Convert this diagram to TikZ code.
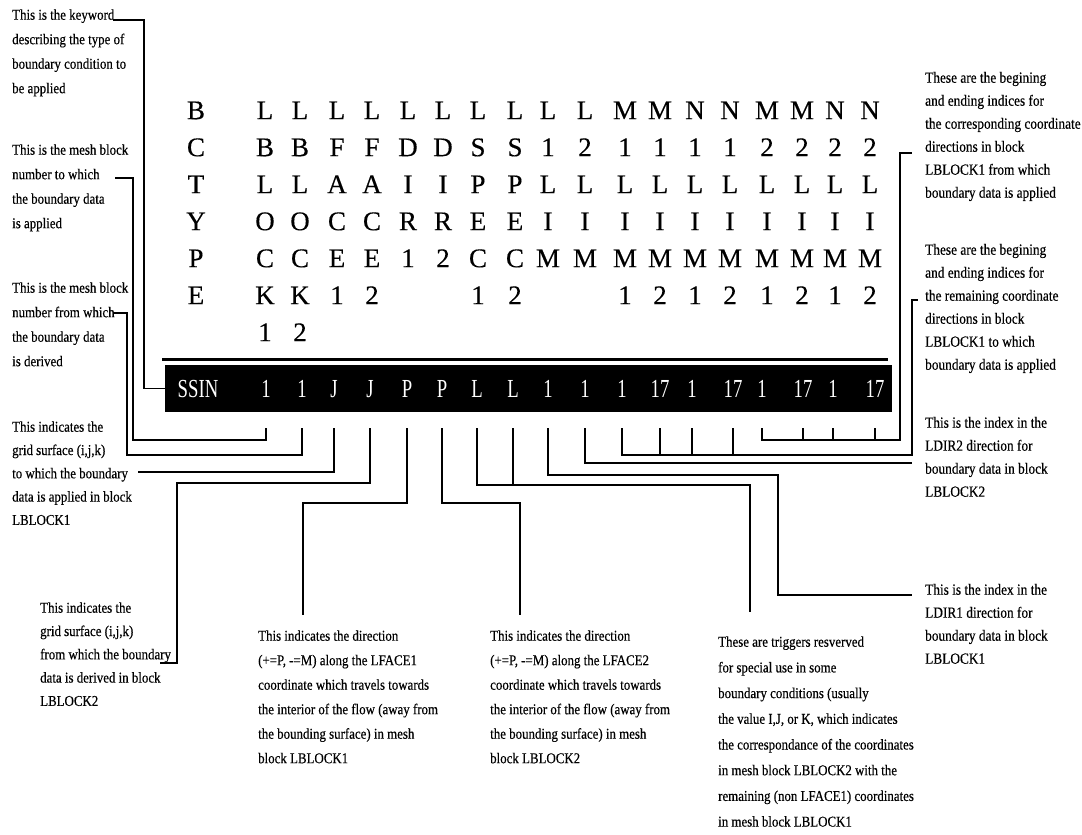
\documentclass[tikz,border=0pt]{standalone}
\usepackage{fontspec}
\setmainfont{Liberation Serif}
\newfontfamily\annfont[FakeStretch=0.86,FakeBold=0.4]{Liberation Serif}
\newfontfamily\hdrfont[FakeBold=0.3]{Liberation Serif}
\newfontfamily\barfont[FakeStretch=0.72]{Liberation Serif}
\newcommand\fl{\rule{0pt}{11pt}}
\newcommand\hl{\rule{0pt}{20pt}}
\begin{document}
\begin{tikzpicture}[x=1pt,y=-1pt,
  annL/.style={anchor=north west, inner sep=0, align=left, font=\annfont\fontsize{15}{24.5}\selectfont},
  annD/.style={anchor=north west, inner sep=0, align=left, font=\annfont\fontsize{15}{23.3}\selectfont},
  annB/.style={anchor=north west, inner sep=0, align=left, font=\annfont\fontsize{15}{24.5}\selectfont},
  annH/.style={anchor=north west, inner sep=0, align=left, font=\annfont\fontsize{15}{25.7}\selectfont},
  annR/.style={anchor=north west, inner sep=0, align=left, font=\annfont\fontsize{15.5}{23}\selectfont},
  hdr/.style={anchor=north, inner sep=0, align=center, font=\hdrfont\fontsize{27}{37}\selectfont},
  val/.style={anchor=base, inner sep=0, text=white, font=\barfont\fontsize{26}{26}\selectfont},
  lead/.style={draw, line width=1.3pt, line join=miter}]
\useasboundingbox (0,0) rectangle (1082,835);

% header columns
\node[hdr] (h0) at (196,99) {\hl B\\C\\T\\Y\\P\\E};
\node[hdr] (h1) at (265,99) {\hl L\\B\\L\\O\\C\\K\\1};
\node[hdr] (h2) at (300,99) {\hl L\\B\\L\\O\\C\\K\\2};
\node[hdr] (h3) at (337,99) {\hl L\\F\\A\\C\\E\\1};
\node[hdr] (h4) at (372,99) {\hl L\\F\\A\\C\\E\\2};
\node[hdr] (h5) at (408,99) {\hl L\\D\\I\\R\\1};
\node[hdr] (h6) at (443,99) {\hl L\\D\\I\\R\\2};
\node[hdr] (h7) at (478,99) {\hl L\\S\\P\\E\\C\\1};
\node[hdr] (h8) at (515,99) {\hl L\\S\\P\\E\\C\\2};
\node[hdr] (h9) at (548,99) {\hl L\\1\\L\\I\\M};
\node[hdr] (h10) at (585,99) {\hl L\\2\\L\\I\\M};
\node[hdr] (h11) at (625,99) {\hl M\\1\\L\\I\\M\\1};
\node[hdr] (h12) at (660,99) {\hl M\\1\\L\\I\\M\\2};
\node[hdr] (h13) at (695,99) {\hl N\\1\\L\\I\\M\\1};
\node[hdr] (h14) at (730,99) {\hl N\\1\\L\\I\\M\\2};
\node[hdr] (h15) at (767,99) {\hl M\\2\\L\\I\\M\\1};
\node[hdr] (h16) at (802,99) {\hl M\\2\\L\\I\\M\\2};
\node[hdr] (h17) at (835,99) {\hl N\\2\\L\\I\\M\\1};
\node[hdr] (h18) at (870,99) {\hl N\\2\\L\\I\\M\\2};

% rule and bar
\draw[line width=3pt] (162,359) -- (888,359);
\node[fill=black, inner sep=0, minimum width=727pt, minimum height=47pt, anchor=north west] (bar) at (165,365) {};
\node[val] (vS) at (198,397) {SSIN};
\node[val] (v1) at (266,397) {1};
\node[val] (v2) at (302,397) {1};
\node[val] (v3) at (334,397) {J};
\node[val] (v4) at (370,397) {J};
\node[val] (v5) at (407,397) {P};
\node[val] (v6) at (442,397) {P};
\node[val] (v7) at (477,397) {L};
\node[val] (v8) at (513,397) {L};
\node[val] (v9) at (548,397) {1};
\node[val] (v10) at (585,397) {1};
\node[val] (v11) at (622,397) {1};
\node[val] (v12) at (660,397) {17};
\node[val] (v13) at (692,397) {1};
\node[val] (v14) at (733,397) {17};
\node[val] (v15) at (762,397) {1};
\node[val] (v16) at (803,397) {17};
\node[val] (v17) at (833,397) {1};
\node[val] (v18) at (875,397) {17};
\coordinate (top) at (0,428);
\coordinate (yB) at (0,440);
\coordinate (yC) at (0,455);
\coordinate (yH) at (0,485);

% annotations
\node[annL] (tA) at (12,8.5) {\fl This is the keyword\\describing the type of\\boundary condition to\\be applied};
\node[annL] (tB) at (12,143.5) {\fl This is the mesh block\\number to which\\the boundary data\\is applied};
\node[annL] (tC) at (12,281.5) {\fl This is the mesh block\\number from which\\the boundary data\\is derived};
\node[annD] (tD) at (12,420.5) {\fl This indicates the\\grid surface (i,j,k)\\to which the boundary\\data is applied in block\\LBLOCK1};
\node[annD] (tE) at (40,601.5) {\fl This indicates the\\grid surface (i,j,k)\\from which the boundary\\data is derived in block\\LBLOCK2};
\node[annB] (tF) at (258,629.5) {\fl This indicates the direction\\(+=P, -=M) along the LFACE1\\coordinate which travels towards\\the interior of the flow (away from\\the bounding surface) in mesh\\block LBLOCK1};
\node[annB] (tG) at (490,629.5) {\fl This indicates the direction\\(+=P, -=M) along the LFACE2\\coordinate which travels towards\\the interior of the flow (away from\\the bounding surface) in mesh\\block LBLOCK2};
\node[annH] (tH) at (718,635.5) {\fl These are triggers resverved\\for special use in some\\boundary conditions (usually\\the value I,J, or K, which indicates\\the correspondance of the coordinates\\in mesh block LBLOCK2 with the\\remaining (non LFACE1) coordinates\\in mesh block LBLOCK1};
\node[annR] (tI) at (925,71.5) {\fl These are the begining\\and ending indices for\\the corresponding coordinate\\directions in block\\LBLOCK1 from which\\boundary data is applied};
\node[annR] (tJ) at (925,243.5) {\fl These are the begining\\and ending indices for\\the remaining coordinate\\directions in block\\LBLOCK1 to which\\boundary data is applied};
\node[annR] (tK) at (925,416.5) {\fl This is the index in the\\LDIR2 direction for\\boundary data in block\\LBLOCK2};
\node[annR] (tL) at (925,583.5) {\fl This is the index in the\\LDIR1 direction for\\boundary data in block\\LBLOCK1};

% leader end points at the texts
\coordinate (a0) at (113,20);
\coordinate (b0) at (115,178);
\coordinate (c0) at (113,313);
\coordinate (d0) at (138,472);
\coordinate (e0) at (160,663);
\coordinate (f0) at (303,615);
\coordinate (g0) at (520,615);
\coordinate (hh0) at (750,612);
\coordinate (k0) at (912,463);
\coordinate (l0) at (912,595);
\coordinate (i0) at (912,153);
\coordinate (j0) at (918,300);

% connectors
\draw[lead] (a0) -- (144,20) |- (bar.west);
\draw[lead] (b0) -| (133,440) -| (v1 |- top);
\draw[lead] (c0) -| (127,455) -| (v2 |- top);
\draw[lead] (d0) -| (v3 |- top);
\draw[lead] (e0) -| (177,483) -| (v4 |- top);
\draw[lead] (v5 |- top) |- (303,503) -- (f0);
\draw[lead] (v6 |- top) |- (520,503) -- (g0);
\draw[lead] (v7 |- top) |- (750,485) -- (hh0);
\draw[lead] (v8 |- top) -- (v8 |- yH);
\draw[lead] (v9 |- top) |- (778,475) |- (l0);
\draw[lead] (v10 |- top) |- (k0);
\draw[lead] (v11 |- top) |- (912,455) -- (912,300) -- (j0);
\draw[lead] (v12 |- top) -- (v12 |- yC);
\draw[lead] (v13 |- top) -- (v13 |- yC);
\draw[lead] (v14 |- top) -- (v14 |- yC);
\draw[lead] (v15 |- top) |- (900,440) -- (900,153) -- (i0);
\draw[lead] (v16 |- top) -- (v16 |- yB);
\draw[lead] (v17 |- top) -- (v17 |- yB);
\draw[lead] (v18 |- top) -- (v18 |- yB);
\end{tikzpicture}
\end{document}
